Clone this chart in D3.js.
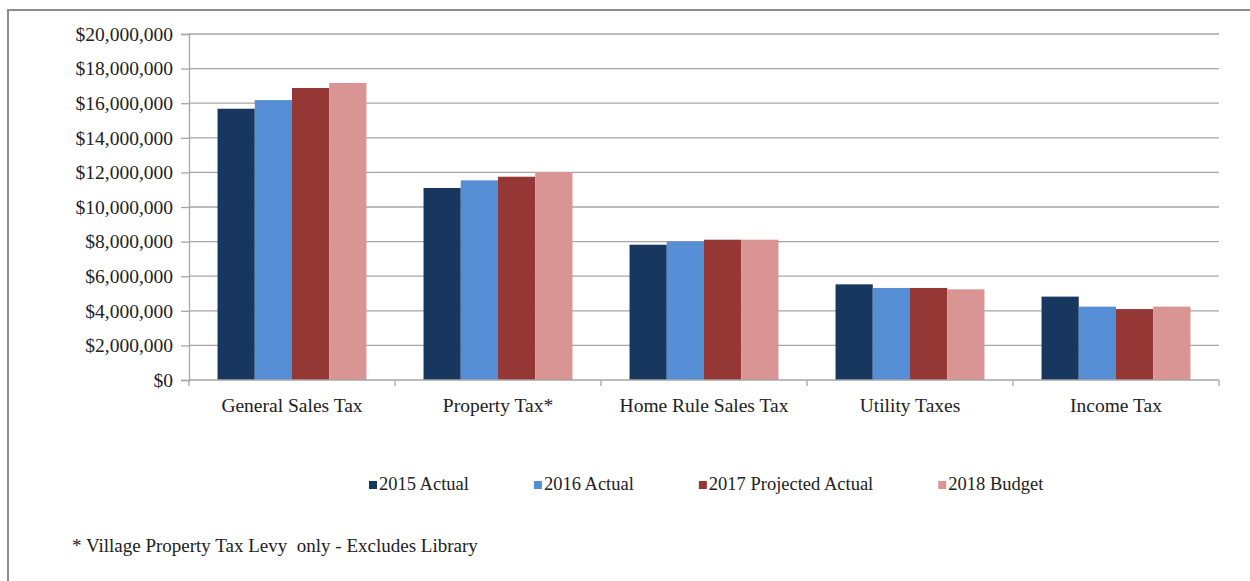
<!DOCTYPE html>
<html>
<head>
<meta charset="utf-8">
<script src="https://cdn.jsdelivr.net/npm/d3@7/dist/d3.min.js"></script>
<style>
  html, body { margin: 0; padding: 0; background: #fff; }
  svg text { font-family: "Liberation Serif", "Times New Roman", Times, serif; white-space: pre; }
</style>
</head>
<body>
<svg id="chart" width="1250" height="581"></svg>
<script>
// Tax revenue by source, four fiscal-year series
const categories = ["General Sales Tax", "Property Tax*", "Home Rule Sales Tax", "Utility Taxes", "Income Tax"];
const seriesNames = ["2015 Actual", "2016 Actual", "2017 Projected Actual", "2018 Budget"];
const actual2015 = [15680000, 11100000, 7820000, 5530000, 4820000];
const actual2016 = [16180000, 11540000, 8010000, 5320000, 4240000];
const projected2017 = [16880000, 11750000, 8110000, 5320000, 4100000];
const budget2018 = [17170000, 12020000, 8110000, 5240000, 4240000];
const yTicks = [0, 2000000, 4000000, 6000000, 8000000, 10000000, 12000000, 14000000, 16000000, 18000000, 20000000];
const footnote = "* Village Property Tax Levy  only - Excludes Library";

const seriesValues = [actual2015, actual2016, projected2017, budget2018];
const colors = ["#17375E", "#558ED5", "#953735", "#D99594"];

const serif = "'Liberation Serif', 'Times New Roman', Times, serif";
const svg = d3.select("#chart");
const plot = { left: 189, right: 1219, top: 34, bottom: 380 };
const gridColor = "#A6A6A6";

// Outer frame
svg.append("rect")
  .attr("x", 8).attr("y", 10)
  .attr("width", 1260).attr("height", 600)
  .attr("fill", "none")
  .attr("stroke", "#8C8C8C")
  .attr("stroke-width", 2);

const x = d3.scaleBand()
  .domain(categories)
  .range([plot.left, plot.right])
  .paddingInner(0.277)
  .paddingOuter(0.1385);

const xInner = d3.scaleBand()
  .domain(seriesNames)
  .range([0, x.bandwidth()])
  .padding(0);

const y = d3.scaleLinear()
  .domain([0, 20000000])
  .range([plot.bottom, plot.top]);

// Horizontal gridlines
svg.append("g")
  .selectAll("line")
  .data(yTicks.filter(d => d > 0))
  .join("line")
  .attr("x1", plot.left).attr("x2", plot.right)
  .attr("y1", d => y(d)).attr("y2", d => y(d))
  .attr("stroke", gridColor)
  .attr("stroke-width", 1.3);

// Bars
const groups = svg.append("g")
  .selectAll("g")
  .data(categories)
  .join("g")
  .attr("transform", d => `translate(${x(d)},0)`);

groups.selectAll("rect")
  .data((c, i) => seriesNames.map((s, k) => ({ series: s, k, value: seriesValues[k][i] })))
  .join("rect")
  .attr("x", d => xInner(d.series))
  .attr("y", d => y(d.value))
  .attr("width", xInner.bandwidth())
  .attr("height", d => y(0) - y(d.value))
  .attr("fill", d => colors[d.k]);

// Y axis
const yAxis = svg.append("g")
  .attr("transform", `translate(${plot.left},0)`)
  .call(d3.axisLeft(y)
    .tickValues(yTicks)
    .tickSize(8)
    .tickPadding(8)
    .tickFormat(d => "$" + d3.format(",")(d)));
yAxis.attr("font-family", serif);
yAxis.select(".domain").attr("stroke", gridColor).attr("stroke-width", 1.3);
yAxis.selectAll(".tick line").attr("stroke", gridColor).attr("stroke-width", 1.3);
yAxis.selectAll(".tick text")
  .attr("fill", "#222")
  .style("font-size", "19.5px")
  .style("font-family", serif);

// X axis baseline, boundary ticks and category labels
svg.append("line")
  .attr("x1", plot.left).attr("x2", plot.right)
  .attr("y1", plot.bottom).attr("y2", plot.bottom)
  .attr("stroke", gridColor).attr("stroke-width", 1.3);

const step = x.step();
const boundaries = d3.range(categories.length + 1).map(i => plot.left + i * step);
svg.append("g")
  .selectAll("line")
  .data(boundaries)
  .join("line")
  .attr("x1", d => d).attr("x2", d => d)
  .attr("y1", plot.bottom).attr("y2", plot.bottom + 6)
  .attr("stroke", gridColor).attr("stroke-width", 1.3);

svg.append("g")
  .selectAll("text")
  .data(categories)
  .join("text")
  .attr("x", d => x(d) + x.bandwidth() / 2)
  .attr("y", 412)
  .attr("text-anchor", "middle")
  .attr("fill", "#222")
  .style("font-family", serif)
  .style("font-size", "19.5px")
  .text(d => d);

// Legend
const legend = svg.append("g");
let lx = 369;
seriesNames.forEach((name, k) => {
  legend.append("rect")
    .attr("x", lx).attr("y", 481)
    .attr("width", 8).attr("height", 8)
    .attr("fill", colors[k]);
  const t = legend.append("text")
    .attr("x", lx + 10).attr("y", 490)
    .attr("fill", "#222")
    .style("font-family", serif)
    .style("font-size", "18.5px")
    .text(name);
  lx += 10 + t.node().getComputedTextLength() + 65;
});

// Footnote
svg.append("text")
  .attr("x", 72).attr("y", 552)
  .attr("fill", "#222")
  .style("font-family", serif)
  .style("font-size", "19px")
  .text(footnote);
</script>
</body>
</html>
